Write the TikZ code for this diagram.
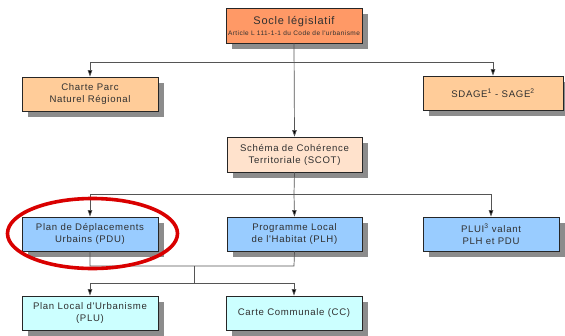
\documentclass[tikz,border=0pt]{standalone}
\usepackage{fontspec}
\setmainfont{Liberation Sans}
\newfontfamily\lsfont[LetterSpace=7]{Liberation Sans}
\usetikzlibrary{shadows,arrows.meta}
\definecolor{socle}{HTML}{FF9966}
\definecolor{orangel}{HTML}{FFCC99}
\definecolor{peach}{HTML}{FFE2CC}
\definecolor{blueb}{HTML}{99CCFF}
\definecolor{cyanb}{HTML}{CCFFFF}
\definecolor{shad}{HTML}{8C8C8C}
\definecolor{conn}{HTML}{555555}
\definecolor{txt}{HTML}{303030}
\tikzset{
  box/.style={draw=black!85, line width=0.7pt, minimum width=136pt, minimum height=34pt,
    inner sep=0pt, align=center, text=txt, font=\lsfont\fontsize{9.6}{12}\selectfont,
    drop shadow={shadow xshift=6pt, shadow yshift=-6pt, fill=shad, opacity=1}},
  conline/.style={draw=conn, line width=0.7pt},
  arr/.style={conline, -{Triangle[length=6.5pt,width=4.5pt,fill=black]}},
}
\begin{document}
\begin{tikzpicture}[x=1pt,y=-1pt]
\useasboundingbox (0,0) rectangle (565,335);
\fill[white] (0,0) rectangle (565,335);
% nodes
\node[box, fill=socle, minimum height=35pt] (socle) at (294,25.5)
  {{\fontsize{11}{13}\selectfont Socle législatif}\\[-1pt]{\fontsize{6.5}{8}\selectfont Article L 111-1-1 du Code de l'urbanisme}};
\node[box, fill=orangel] (charte) at (90,94) {Charte Parc\\Naturel Régional};
\node[box, fill=orangel, minimum width=140pt] (sdage) at (493,93) {SDAGE\textsuperscript{1} - SAGE\textsuperscript{2}};
\node[box, fill=peach, minimum height=35pt, minimum width=135pt] (scot) at (294.5,154.5) {Schéma de Cohérence\\Territoriale (SCOT)};
\node[box, fill=blueb] (pdu) at (90,234) {Plan de Déplacements\\Urbains (PDU)};
\node[box, fill=blueb, minimum width=135pt] (plh) at (294.5,234) {Programme Local\\de l'Habitat (PLH)};
\node[box, fill=blueb] (plui) at (491,234) {PLUI\textsuperscript{3} valant\\PLH et PDU};
\node[box, fill=cyanb] (plu) at (90,313) {Plan Local d'Urbanisme\\(PLU)};
\node[box, fill=cyanb] (cc) at (294,313) {Carte Communale (CC)};
% junction coordinates
\coordinate (j1) at (294,62);
\coordinate (j1l) at (90,62);
\coordinate (j1r) at (493,62);
\coordinate (j2) at (294,194);
\coordinate (j2l) at (90,194);
\coordinate (j2r) at (491,194);
\coordinate (j3l) at (90,266);
\coordinate (j3r) at (294,266);
\coordinate (j3m) at (194,266);
\coordinate (j4) at (194,283);
\coordinate (j4l) at (90,283);
\coordinate (j4r) at (294,283);
% connectors
\draw[arr] (socle.south) -- (scot.north);
\draw[conline] (j1l) -- (j1r);
\draw[arr] (j1l) -- (charte.north);
\draw[arr] (j1r) -- (sdage.north);
\draw[conline] (scot.south) -- (j2);
\draw[conline] (j2l) -- (j2r);
\draw[arr] (j2l) -- (pdu.north);
\draw[arr] (j2) -- (plh.north);
\draw[arr] (j2r) -- (plui.north);
\draw[conline] (pdu.south) -- (j3l) -- (j3r) -- (plh.south);
\draw[conline] (j3m) -- (j4);
\draw[conline] (j4l) -- (j4r);
\draw[arr] (j4l) -- (plu.north);
\draw[arr] (j4r) -- (cc.north);
% red ellipse
\draw[red!85!black, line width=3.6pt] (92.5,233.5) ellipse (85pt and 35pt);
\end{tikzpicture}
\end{document}
